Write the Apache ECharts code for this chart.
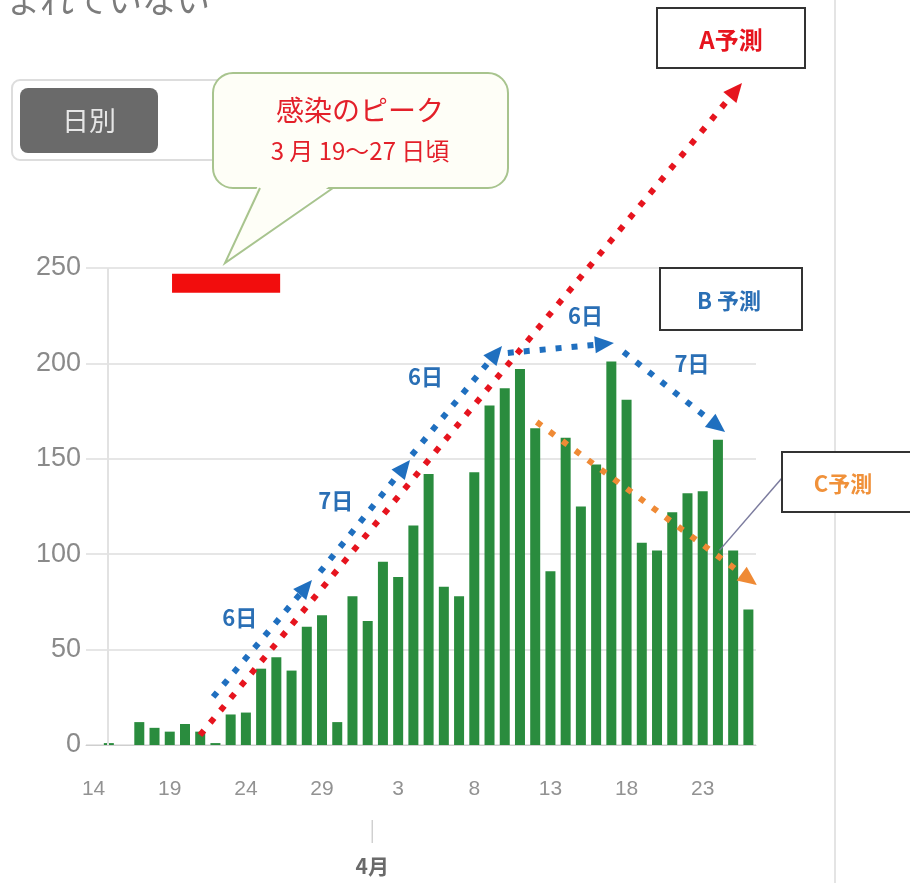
<!DOCTYPE html>
<html>
<head>
<meta charset="utf-8">
<script src="https://cdn.jsdelivr.net/npm/echarts@6/dist/echarts.min.js"></script>
<style>
  html, body { margin: 0; padding: 0; background: #fff; }
  #chart { width: 910px; height: 883px; }
</style>
</head>
<body>
<div id="chart"></div>
<script>
// Daily new positive cases, 3/14 – 4/26
const categories = [
  '3/14','3/15','3/16','3/17','3/18','3/19','3/20','3/21','3/22','3/23','3/24','3/25','3/26','3/27','3/28','3/29','3/30','3/31',
  '4/1','4/2','4/3','4/4','4/5','4/6','4/7','4/8','4/9','4/10','4/11','4/12','4/13','4/14','4/15','4/16','4/17','4/18','4/19','4/20',
  '4/21','4/22','4/23','4/24','4/25','4/26'
];
const dailyCases = [
  0, 1, 0, 12, 9, 7, 11, 7, 1, 16, 17, 40, 46, 39, 62, 68, 12, 78,
  65, 96, 88, 115, 142, 83, 78, 143, 178, 187, 197, 166, 91, 161, 125, 147, 201, 181, 106, 102,
  122, 132, 133, 160, 102, 71
];
const yTicks = [0, 50, 100, 150, 200, 250];

// Infection peak band, in day-index units (3/19 – 3/27 approx.) and cases
const peakRange = [5.15, 12.25];
const peakBand = [237, 247];

// Forecast trend arrows: [start, tip] as [day index, cases]
const forecastA = [[[6.99, 5.2], [42.58, 347]]];
const forecastB = [
  [[7.85, 25.2], [14.34, 86.5]],
  [[14.87, 90.7], [20.78, 149.4]],
  [[20.9, 152], [26.82, 209.1]],
  [[27.2, 205.5], [34.17, 210.7]],
  [[34.8, 206], [41.47, 164]]
];
const forecastC = [[[29.1, 169.3], [43.56, 83.9]]];

// Day-span labels along the B arrows
const spanLabels = ['6日', '7日', '6日', '6日', '7日'];
const spanLabelAt = [[9.6, 66.6], [15.9, 128], [21.8, 193], [32.3, 225], [39.3, 200]];

const monthLabel = '4月';
const monthIndex = 18.3;
const pointerEnd = [41.1, 102];

const CJK = '"Noto Sans CJK JP", "Noto Sans", sans-serif';
const RED = '#e6141e', BLUE = '#1f6fbf', ORANGE = '#ef8a35';

const chart = echarts.init(document.getElementById('chart'), null, { renderer: 'canvas' });

chart.setOption({
  animation: false,
  backgroundColor: '#fff',
  grid: { left: 86, right: 154, top: 268, bottom: 138, containLabel: false },
  xAxis: [
    {
      type: 'category', data: categories, boundaryGap: true,
      axisLine: { show: true, lineStyle: { color: '#cfcfcf', width: 1 } },
      axisTick: { show: false },
      axisLabel: {
        interval: 4, margin: 34, color: '#929292', fontSize: 21,
        fontFamily: '"Liberation Sans Narrow", "Liberation Sans", sans-serif',
        formatter: v => v.split('/')[1]
      },
      splitLine: { show: false }
    },
    { type: 'value', min: -0.5, max: 43.5, show: false }
  ],
  yAxis: {
    type: 'value', min: yTicks[0], max: yTicks[yTicks.length - 1], interval: 50,
    axisLine: { show: false }, axisTick: { show: false },
    axisLabel: { color: '#8a8a8a', fontSize: 27, margin: 5, fontFamily: '"Liberation Sans", Arial, sans-serif' },
    splitLine: { lineStyle: { color: '#e6e6e6', width: 2 } }
  },
  series: [
    {
      type: 'bar', data: dailyCases, barWidth: 10,
      itemStyle: { color: '#2a8c3e' },
      silent: true
    },
    {
      type: 'line', xAxisIndex: 1, yAxisIndex: 0, data: [], silent: true,
      markLine: {
        silent: true, animation: false, symbol: ['none', 'none'], label: { show: false },
        lineStyle: { color: '#e2e2e2', width: 2, type: 'solid' },
        data: [{ xAxis: 0.95 }]
      },
      markArea: {
        silent: true,
        itemStyle: { color: '#f20d0d' },
        data: [[{ coord: [peakRange[0], peakBand[0]] }, { coord: [peakRange[1], peakBand[1]] }]]
      }
    }
  ]
});

const toPx = p => chart.convertToPixel({ xAxisIndex: 1, yAxisIndex: 0 }, p);

// dotted shaft plus a solid triangular head at the tip
function arrow(seg, color) {
  const p0 = toPx(seg[0]), p1 = toPx(seg[1]);
  const dx = p1[0] - p0[0], dy = p1[1] - p0[1];
  const len = Math.hypot(dx, dy);
  const ux = dx / len, uy = dy / len, nx = -uy, ny = ux;
  const L = 19, W = 17;
  const bx = p1[0] - ux * L, by = p1[1] - uy * L;
  return [
    { type: 'line', shape: { x1: p0[0], y1: p0[1], x2: bx, y2: by },
      style: { stroke: color, lineWidth: 6, lineDash: [6, 10], lineCap: 'butt' }, z: 30, silent: true },
    { type: 'polygon', shape: { points: [[p1[0], p1[1]], [bx + nx * W / 2, by + ny * W / 2], [bx - nx * W / 2, by - ny * W / 2]] },
      style: { fill: color }, z: 30, silent: true }
  ];
}

const monthPx = toPx([monthIndex, 0])[0];
const ptr = toPx(pointerEnd);

const graphics = [
  // panel border on the right
  { type: 'line', shape: { x1: 835, y1: 0, x2: 835, y2: 883 }, style: { stroke: '#e4e4e4', lineWidth: 2 }, z: 1 },
  // clipped heading text
  { type: 'text', left: 6, top: -17, style: { text: 'まれていない', fontSize: 34, fill: '#7c7c7c', fontFamily: CJK }, z: 10 },
  // daily / cumulative toggle
  { type: 'rect', shape: { x: 12, y: 80, width: 215, height: 80, r: 8 }, style: { fill: '#fff', stroke: '#dddddd', lineWidth: 2 }, z: 10 },
  { type: 'rect', shape: { x: 20, y: 88, width: 138, height: 65, r: 8 }, style: { fill: '#6a6a6a' }, z: 11 },
  { type: 'text', x: 89, y: 121, style: { text: '日別', fontSize: 27, fill: '#e6e6e6', fontFamily: CJK, align: 'center', verticalAlign: 'middle' }, z: 12 },
  // peak balloon
  { type: 'rect', shape: { x: 213, y: 73, width: 295, height: 115, r: 20 }, style: { fill: '#fefef7', stroke: '#a8c48e', lineWidth: 2 }, z: 20 },
  { type: 'polygon', shape: { points: [[259, 183], [225, 263], [334, 183]] }, style: { fill: '#fefef7' }, z: 21 },
  { type: 'polyline', shape: { points: [[260, 188], [225, 263], [333, 188]] }, style: { stroke: '#a8c48e', lineWidth: 2, fill: null }, z: 22 },
  { type: 'text', x: 360, y: 110, style: { text: '感染のピーク', fontSize: 28, fill: '#e3202a', fontFamily: CJK, align: 'center', verticalAlign: 'middle' }, z: 23 },
  { type: 'text', x: 360, y: 151, style: { text: '3 月 19〜27 日頃', fontSize: 24, fill: '#e3202a', fontFamily: CJK, align: 'center', verticalAlign: 'middle' }, z: 23 },
  // forecast boxes
  { type: 'rect', shape: { x: 657, y: 8, width: 148, height: 60 }, style: { fill: '#fff', stroke: '#333', lineWidth: 2 }, z: 20 },
  { type: 'text', x: 731, y: 40, style: { text: 'A予測', fontSize: 24, fontWeight: 'bold', fill: RED, fontFamily: CJK, align: 'center', verticalAlign: 'middle' }, z: 21 },
  { type: 'rect', shape: { x: 660, y: 268, width: 142, height: 62 }, style: { fill: '#fff', stroke: '#333', lineWidth: 2 }, z: 20 },
  { type: 'text', x: 729, y: 301, style: { text: 'B 予測', fontSize: 22, fontWeight: 'bold', fill: '#2a6fb5', fontFamily: CJK, align: 'center', verticalAlign: 'middle' }, z: 21 },
  { type: 'line', shape: { x1: 782, y1: 478, x2: ptr[0], y2: ptr[1] }, style: { stroke: '#7b7b9e', lineWidth: 1.5 }, z: 19 },
  { type: 'rect', shape: { x: 782, y: 452, width: 140, height: 60 }, style: { fill: '#fff', stroke: '#333', lineWidth: 2 }, z: 20 },
  { type: 'text', x: 843, y: 484, style: { text: 'C予測', fontSize: 22, fontWeight: 'bold', fill: '#f0913a', fontFamily: CJK, align: 'center', verticalAlign: 'middle' }, z: 21 },
  // month marker under the axis
  { type: 'line', shape: { x1: monthPx, y1: 820, x2: monthPx, y2: 843 }, style: { stroke: '#d0d0d0', lineWidth: 1.5 }, z: 10 },
  { type: 'text', x: monthPx, y: 866, style: { text: monthLabel, fontSize: 21, fontWeight: 'bold', fill: '#6a6a6a', fontFamily: CJK, align: 'center', verticalAlign: 'middle' }, z: 10 }
];

forecastC.forEach(s => graphics.push(...arrow(s, ORANGE)));
forecastA.forEach(s => graphics.push(...arrow(s, RED)));
forecastB.forEach(s => graphics.push(...arrow(s, BLUE)));

spanLabels.forEach((t, i) => {
  const p = toPx(spanLabelAt[i]);
  graphics.push({
    type: 'text', x: p[0], y: p[1],
    style: { text: t, fontSize: 22, fontWeight: 'bold', fill: '#2a6fb5', fontFamily: CJK, align: 'center', verticalAlign: 'middle' },
    z: 35
  });
});

chart.setOption({ graphic: graphics });
</script>
</body>
</html>
